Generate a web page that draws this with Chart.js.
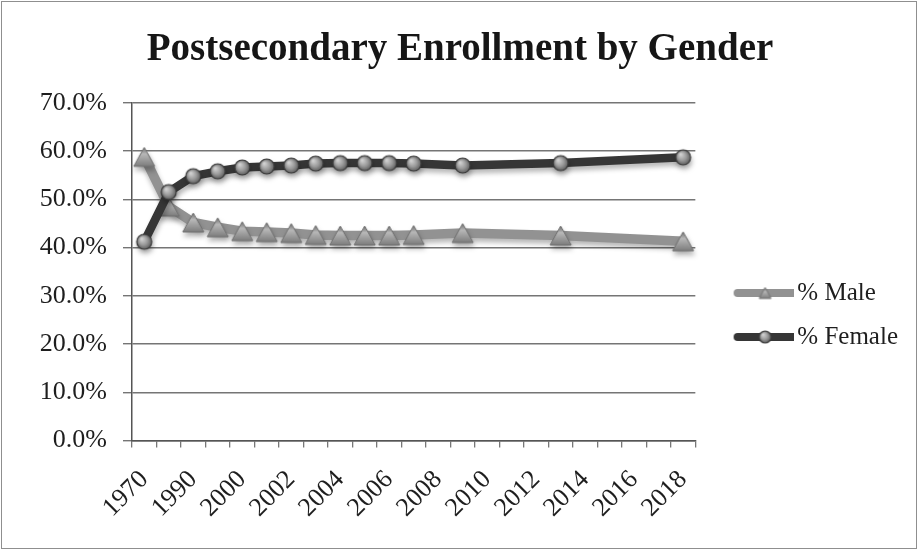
<!DOCTYPE html>
<html>
<head>
<meta charset="utf-8">
<script src="https://cdn.jsdelivr.net/npm/chart.js@4.4.1/dist/chart.umd.min.js"></script>
<style>
  html, body { margin: 0; padding: 0; background: #ffffff; }
  #wrap { width: 918px; height: 550px; position: relative; }
</style>
</head>
<body>
<div id="wrap"><canvas id="chart" width="918" height="550"></canvas></div>
<script>
// Survey years (category axis; every other year is labelled)
const years = ['1970', '1980', '1990', '1995', '2000', '2001', '2002', '2003', '2004', '2005',
               '2006', '2007', '2008', '2009', '2010', '2011', '2012', '2013', '2014', '2015',
               '2016', '2017', '2018'];

// Share of postsecondary enrollment, percent (null = year not reported)
const femalePct = [41.2, 51.5, 54.8, 55.8, 56.6, 56.8, 57.0, 57.4, 57.5, 57.5,
                   57.5, 57.4, null, 57.0, null, null, null, 57.5, null, null,
                   null, null, 58.7];
const malePct   = [58.8, 48.5, 45.2, 44.2, 43.4, 43.2, 43.0, 42.6, 42.5, 42.5,
                   42.5, 42.6, null, 43.0, null, null, null, 42.5, null, null,
                   null, null, 41.3];

const seriesNames = ['% Female', '% Male'];

const SERIF = "'Liberation Serif', 'Times New Roman', serif";
const MALE_LINE = '#929292';
const FEMALE_LINE = '#363636';

// ---- marker sprites -------------------------------------------------------
function circleSprite(r) {
  const s = Math.ceil(r * 2 + 4);
  const c = document.createElement('canvas');
  c.width = s; c.height = s;
  const g = c.getContext('2d');
  const cx = s / 2, cy = s / 2;
  const grad = g.createRadialGradient(cx - r * 0.35, cy - r * 0.4, r * 0.1, cx, cy, r);
  grad.addColorStop(0, '#d0d0d0');
  grad.addColorStop(0.55, '#9a9a9a');
  grad.addColorStop(1, '#5e5e5e');
  g.beginPath();
  g.arc(cx, cy, r, 0, Math.PI * 2);
  g.fillStyle = grad;
  g.fill();
  g.lineWidth = 1.2;
  g.strokeStyle = '#3a3a3a';
  g.stroke();
  return c;
}

function triangleSprite(w, h) {
  const c = document.createElement('canvas');
  c.width = Math.ceil(w + 4); c.height = Math.ceil(h + 4);
  const g = c.getContext('2d');
  const x0 = 2, y0 = 2;
  const grad = g.createLinearGradient(0, y0, 0, y0 + h);
  grad.addColorStop(0, '#6a6a6a');
  grad.addColorStop(0.35, '#b8b8b8');
  grad.addColorStop(1, '#7c7c7c');
  g.beginPath();
  g.moveTo(x0 + w / 2, y0);
  g.lineTo(x0 + w, y0 + h);
  g.lineTo(x0, y0 + h);
  g.closePath();
  g.fillStyle = grad;
  g.fill();
  g.lineWidth = 1;
  g.strokeStyle = '#707070';
  g.stroke();
  return c;
}

// legend swatch: a short run of the series line with its marker in the middle
function legendSwatch(lineColor, marker) {
  const c = document.createElement('canvas');
  c.width = 88; c.height = 22;
  const g = c.getContext('2d');
  const x1 = 32, x2 = 87, y = 11;
  g.lineCap = 'round';
  g.lineWidth = 8;
  g.strokeStyle = lineColor;
  g.beginPath(); g.moveTo(x1, y); g.lineTo(x2, y); g.stroke();
  const mx = (x1 + x2) / 2;
  g.drawImage(marker, mx - marker.width / 2, y - marker.height / 2);
  return c;
}

const femaleMarker = circleSprite(7.5);
const maleMarker = triangleSprite(21, 19);
const swatches = [
  legendSwatch(FEMALE_LINE, circleSprite(6)),
  legendSwatch(MALE_LINE, triangleSprite(12, 11))
];

// ---- plugins ---------------------------------------------------------------
const frame = {
  id: 'frame',
  beforeDraw(chart) {
    const ctx = chart.ctx;
    ctx.save();
    ctx.fillStyle = '#ffffff';
    ctx.fillRect(0, 0, chart.width, chart.height);
    ctx.strokeStyle = '#8f8f8f';
    ctx.lineWidth = 1;
    ctx.strokeRect(1.5, 1.5, chart.width - 3, chart.height - 3);
    ctx.restore();
  }
};

const lineShadow = {
  id: 'lineShadow',
  beforeDatasetDraw(chart) {
    const ctx = chart.ctx;
    ctx.save();
    ctx.shadowColor = 'rgba(0,0,0,0.28)';
    ctx.shadowBlur = 5;
    ctx.shadowOffsetX = 1;
    ctx.shadowOffsetY = 4;
  },
  afterDatasetDraw(chart) {
    chart.ctx.restore();
  }
};

// ---- chart -----------------------------------------------------------------
new Chart(document.getElementById('chart'), {
  type: 'line',
  data: {
    labels: years,
    datasets: [
      {
        label: seriesNames[0],
        data: femalePct,
        borderColor: FEMALE_LINE,
        borderWidth: 8.5,
        borderJoinStyle: 'round',
        borderCapStyle: 'round',
        pointStyle: femaleMarker,
        pointRadius: 7,
        tension: 0,
        spanGaps: true
      },
      {
        label: seriesNames[1],
        data: malePct,
        borderColor: MALE_LINE,
        borderWidth: 9.5,
        borderJoinStyle: 'round',
        borderCapStyle: 'round',
        pointStyle: maleMarker,
        pointRadius: 9,
        tension: 0,
        spanGaps: true
      }
    ]
  },
  options: {
    responsive: false,
    animation: false,
    events: [],
    layout: { padding: { left: 12, right: 10, top: 0, bottom: 0 } },
    plugins: {
      tooltip: { enabled: false },
      title: {
        display: true,
        text: 'Postsecondary Enrollment by Gender',
        color: '#161616',
        font: { family: SERIF, size: 39, weight: 'bold' },
        padding: { top: 27, bottom: 29 }
      },
      legend: {
        display: true,
        position: 'right',
        reverse: true,
        title: { display: true, text: '', font: { size: 10 }, padding: { top: 68, bottom: 0 } },
        labels: {
          usePointStyle: true,
          pointStyleWidth: 70.5,
          padding: 19,
          color: '#1e1e1e',
          font: { family: SERIF, size: 25 },
          generateLabels(chart) {
            const items = Chart.defaults.plugins.legend.labels.generateLabels(chart);
            items.forEach(it => { it.pointStyle = swatches[it.datasetIndex]; });
            return items;
          }
        }
      }
    },
    scales: {
      x: {
        type: 'category',
        offset: true,
        grid: {
          offset: true,
          drawOnChartArea: false,
          drawTicks: true,
          tickLength: 7,
          color: '#777777',
          lineWidth: 1.3
        },
        border: { color: '#555555', width: 1.5 },
        ticks: {
          autoSkip: false,
          minRotation: 45,
          maxRotation: 45,
          padding: 17,
          color: '#1e1e1e',
          font: { family: SERIF, size: 26 },
          callback(value, index) {
            return index % 2 === 0 ? this.getLabelForValue(value) : '';
          }
        },
        afterFit(scale) { scale.height = 109.5; }
      },
      y: {
        min: 0,
        max: 70,
        grid: {
          color: '#757575',
          lineWidth: 1.4,
          drawTicks: true,
          tickLength: 9
        },
        border: { color: '#555555', width: 1.5 },
        ticks: {
          stepSize: 10,
          padding: 16,
          color: '#1e1e1e',
          font: { family: SERIF, size: 26 },
          callback(v) { return v.toFixed(1) + '%'; }
        },
        afterFit(scale) { scale.width = 120; }
      }
    }
  },
  plugins: [frame, lineShadow]
});
</script>
</body>
</html>
